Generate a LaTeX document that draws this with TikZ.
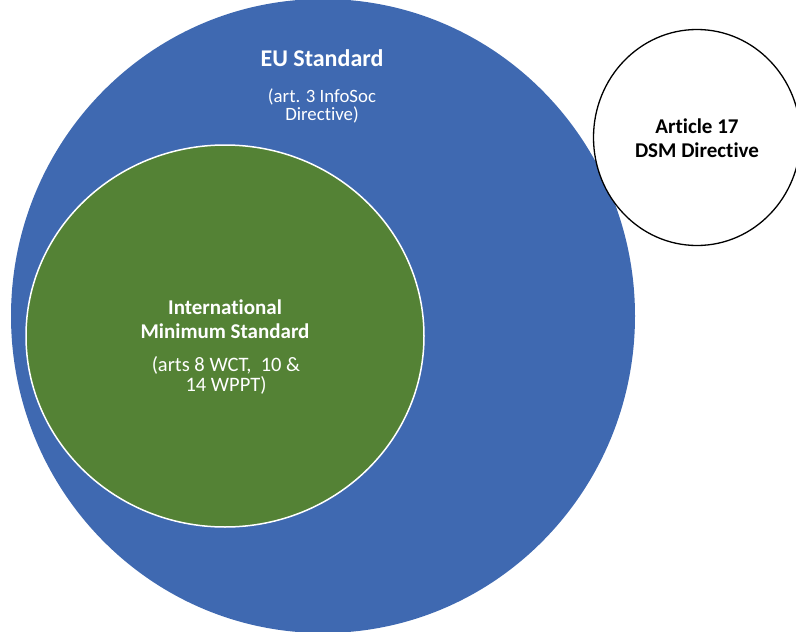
\documentclass[tikz,border=0pt]{standalone}
\usepackage{fontspec}
\setmainfont{Carlito}[Ligatures=NoCommon]
\usetikzlibrary{shapes.geometric}

\definecolor{eublue}{HTML}{3F69B1}
\definecolor{intgreen}{HTML}{548235}

\begin{document}
\begin{tikzpicture}[x=1pt,y=-1pt,
    setshape/.style={ellipse, inner sep=0pt},
    titletext/.style={font=\fontsize{24}{27}\selectfont\bfseries, align=center, inner sep=0pt},
    headtext/.style={font=\fontsize{21}{24}\selectfont\bfseries, align=center, inner sep=0pt},
    reftext/.style={align=center, inner sep=0pt}]
    \useasboundingbox (0,0) rectangle (796,632);
    \clip (0,0) rectangle (796,632);

    % the three sets
    \node[setshape, fill=eublue, minimum width=624, minimum height=634] (eu) at (323,316) {};
    \node[setshape, fill=intgreen, draw=white, line width=1.5pt,
          minimum width=398, minimum height=382] (intl) at (225,336) {};
    \node[setshape, fill=white, draw=black, line width=1.3pt,
          minimum width=207, minimum height=216] (dsm) at (697,137.5) {};

    % labels
    \node[titletext, text=white] (eutitle) at (322,58.5) {EU Standard};
    \node[reftext, text=white, font=\fontsize{18.8}{18}\selectfont] (euref) at (322,106) {(art. 3 InfoSoc\\Directive)};
    \node[headtext, text=white] (intltitle) at (225,319) {International\\Minimum Standard};
    \node[reftext, text=white, font=\fontsize{20.5}{20}\selectfont] (intlref) at (226,375.5) {(arts 8 WCT,\ \ 10 \&\\14 WPPT)};
    \node[headtext, text=black] (dsmtitle) at (697,138) {Article 17\\DSM Directive};
\end{tikzpicture}
\end{document}
